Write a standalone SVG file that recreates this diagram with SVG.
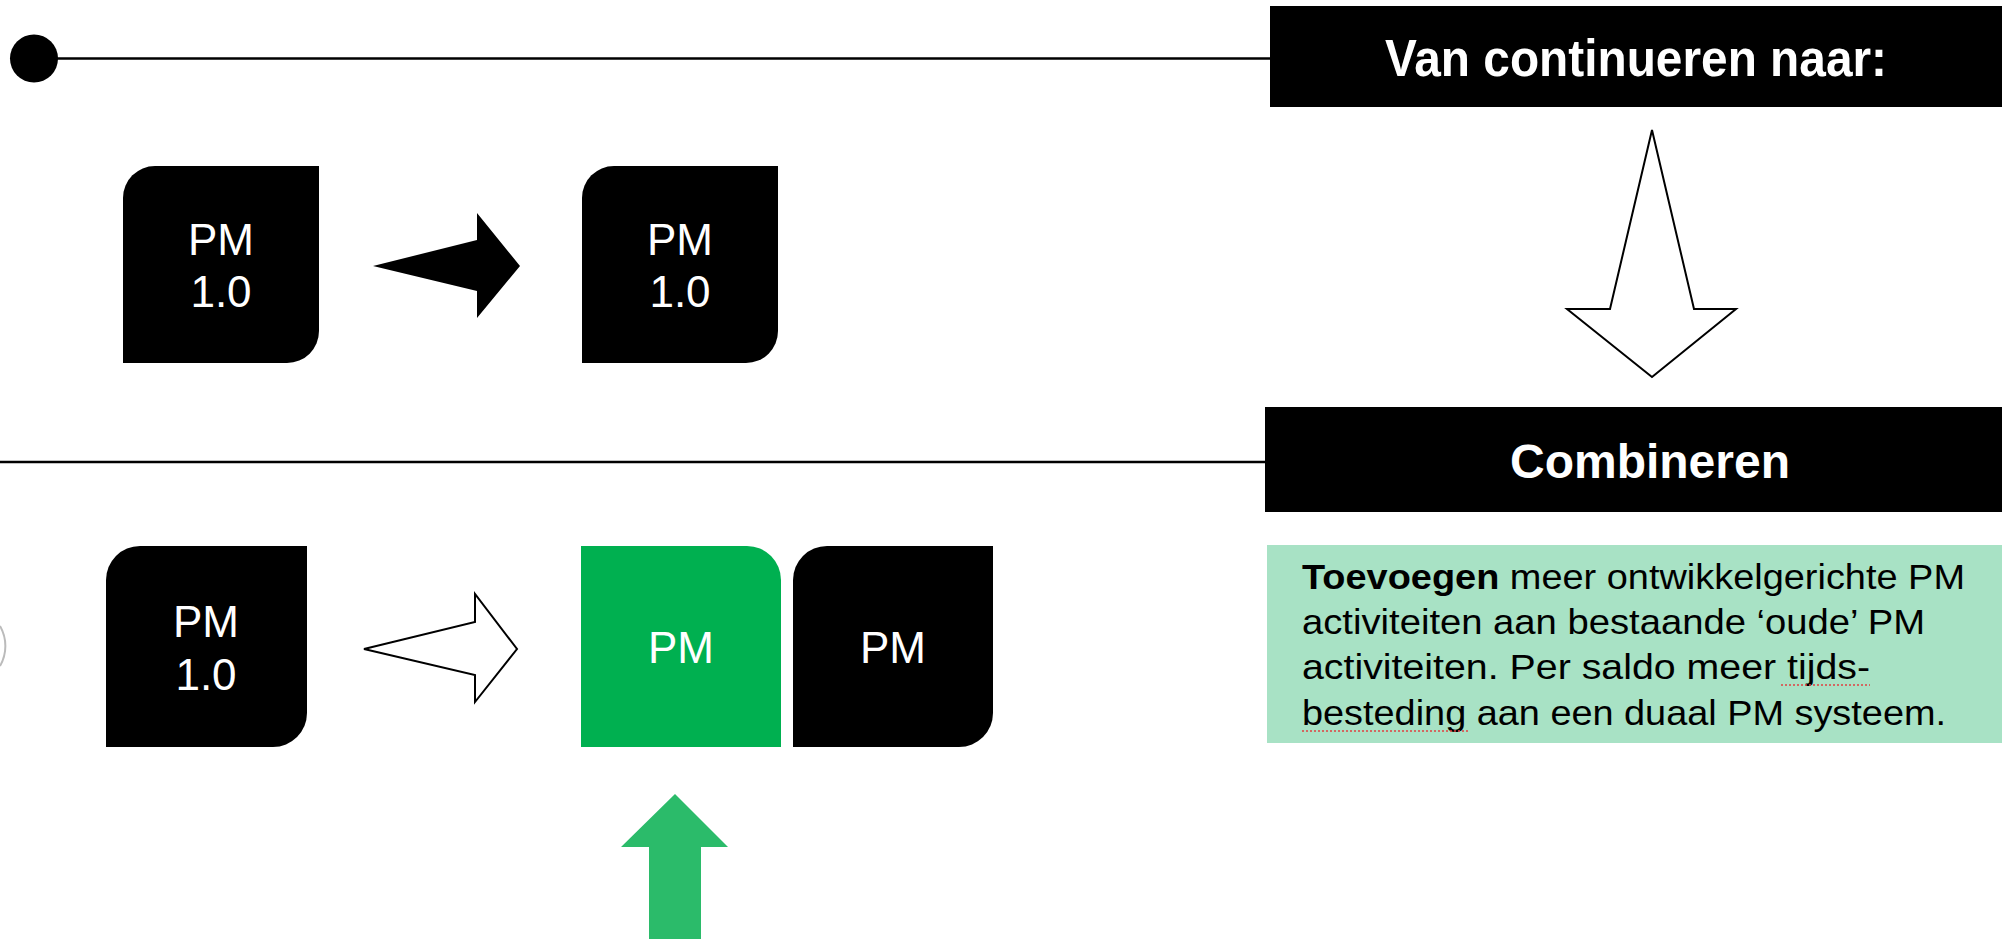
<svg xmlns="http://www.w3.org/2000/svg" width="2002" height="939" viewBox="0 0 2002 939">
<style>
.box{fill:#000}
.pm{fill:#fff;font-family:"Liberation Sans",Arial,sans-serif;font-size:44px;text-anchor:middle}
.hdr{fill:#fff;font-family:"Liberation Sans",Arial,sans-serif;font-weight:bold;text-anchor:middle}
.body{fill:#000;font-family:"Liberation Sans",Arial,sans-serif;font-size:35px}
.rule{stroke:#000;stroke-width:2.5;fill:none}
.outline{fill:#fff;stroke:#000;stroke-width:2;stroke-linejoin:miter}
.squig{stroke:#e04040;stroke-width:1.5;stroke-dasharray:2 2;fill:none}
</style>
<rect width="2002" height="939" fill="#fff"/>
<g id="connectors">
<line class="rule" x1="34" y1="58.5" x2="1270" y2="58.5"/>
<circle cx="34" cy="58.5" r="24" fill="#000"/>
<line class="rule" x1="0" y1="462" x2="1266" y2="462"/>
<path d="M373 266 L477 240 L477 213 L520 266 L477 318 L477 291 Z" fill="#000"/>
<path class="outline" d="M364 649 L475 622 L475 594 L517 649 L475 702 L475 675 Z"/>
<path class="outline" d="M1652 130 L1694 309 L1736 309 L1652 377 L1567 309 L1610 309 Z"/>
<path d="M675 794 L728 847 L701 847 L701 939 L649 939 L649 847 L621 847 Z" fill="#2bbb6a"/>
<path d="M0 626 A40 40 0 0 1 0 666" fill="none" stroke="#bbb" stroke-width="2"/>
</g>
<g id="header-top">
<rect x="1270" y="6" width="732" height="101" fill="#000"/>
<text class="hdr" x="1636" y="76" font-size="52" textLength="502" lengthAdjust="spacingAndGlyphs">Van continueren naar:</text>
</g>
<g id="header-combineren">
<rect x="1265" y="407" width="737" height="105" fill="#000"/>
<text class="hdr" x="1650" y="478" font-size="48" textLength="280" lengthAdjust="spacingAndGlyphs">Combineren</text>
</g>
<g id="box-top-left">
<path class="box" d="M123 198 A32 32 0 0 1 155 166 H319 V331 A32 32 0 0 1 287 363 H123 Z"/>
<text class="pm" x="221" y="255">PM</text>
<text class="pm" x="221" y="307">1.0</text>
</g>
<g id="box-top-right">
<path class="box" d="M582 198 A32 32 0 0 1 614 166 H778 V331 A32 32 0 0 1 746 363 H582 Z"/>
<text class="pm" x="680" y="255">PM</text>
<text class="pm" x="680" y="307">1.0</text>
</g>
<g id="box-bottom-left">
<path class="box" d="M106 580 A34 34 0 0 1 140 546 H307 V713 A34 34 0 0 1 273 747 H106 Z"/>
<text class="pm" x="206" y="637">PM</text>
<text class="pm" x="206" y="690">1.0</text>
</g>
<g id="box-green">
<path d="M581 546 H747 A34 34 0 0 1 781 580 V747 H581 Z" fill="#00b050"/>
<text class="pm" x="681" y="663">PM</text>
</g>
<g id="box-bottom-right">
<path class="box" d="M793 580 A34 34 0 0 1 827 546 H993 V713 A34 34 0 0 1 959 747 H793 Z"/>
<text class="pm" x="893" y="663">PM</text>
</g>
<g id="textbox">
<rect x="1267" y="545" width="735" height="198" fill="#a8e2c5"/>
<text class="body" x="1302" y="589" textLength="663" lengthAdjust="spacingAndGlyphs"><tspan font-weight="bold">Toevoegen</tspan> meer ontwikkelgerichte PM</text>
<text class="body" x="1302" y="634" textLength="623" lengthAdjust="spacingAndGlyphs">activiteiten aan bestaande ‘oude’ PM</text>
<text class="body" x="1302" y="679" textLength="568" lengthAdjust="spacingAndGlyphs">activiteiten. Per saldo meer tijds-</text>
<text class="body" x="1302" y="725" textLength="644" lengthAdjust="spacingAndGlyphs">besteding aan een duaal PM systeem.</text>
<line class="squig" x1="1781" y1="685" x2="1870" y2="685"/>
<line class="squig" x1="1302" y1="731" x2="1468" y2="731"/>
</g>
</svg>
